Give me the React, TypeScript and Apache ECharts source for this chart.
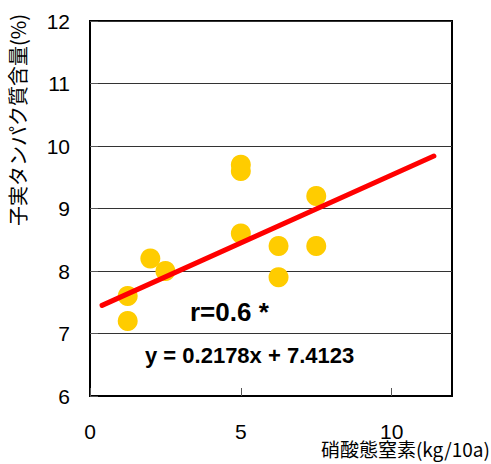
import React, { useEffect, useRef } from "react";
import * as echarts from "echarts";

const xValues = [5, 5, 7.5, 5, 6.25, 7.5, 6.25, 2, 2.5, 1.25, 1.25];
const yValues = [9.7, 9.6, 9.2, 8.6, 8.4, 8.4, 7.9, 8.2, 8.0, 7.6, 7.2];
const trendX = [0.4, 11.4];
const trendY = [7.45, 9.84];
const xTicks = [0, 5, 10];
const yTitle = "子実タンパク質含量(%)";
const xTitle = "硝酸態窒素(kg/10a)";
const rText = "r=0.6 *";
const eqText = "y = 0.2178x + 7.4123";

export default function App() {
  const ref = useRef<HTMLDivElement>(null);
  useEffect(() => {
    if (!ref.current) return;
    const chart = echarts.init(ref.current, undefined, { renderer: "svg" });
    const font = "'Liberation Sans', Arial, sans-serif";
    const cjk = "'Noto Sans CJK JP', sans-serif";
    chart.setOption({
      animation: false,
      backgroundColor: "#fff",
      grid: {
        left: 90,
        top: 21,
        right: 39,
        bottom: 68,
        show: true,
        borderColor: "#000",
        borderWidth: 2,
      },
      xAxis: {
        type: "value",
        min: 0,
        max: 12,
        interval: 5,
        axisLine: { show: true, onZero: false, lineStyle: { color: "#000", width: 2 } },
        axisTick: { show: true, inside: true, length: 8, lineStyle: { color: "#555" } },
        splitLine: { show: false },
        axisLabel: {
          showMaxLabel: false,
          margin: 25,
          fontSize: 21,
          color: "#000",
          fontFamily: font,
          formatter: (v: number) => (xTicks.includes(v) ? String(v) : ""),
        },
      },
      yAxis: {
        type: "value",
        min: 6,
        max: 12,
        interval: 1,
        axisLine: { show: true, lineStyle: { color: "#000", width: 2 } },
        axisTick: { show: true, inside: true, length: 8, lineStyle: { color: "#555" } },
        splitLine: { show: true, lineStyle: { color: "#333", width: 1 } },
        axisLabel: { margin: 20, fontSize: 21, color: "#000", fontFamily: font },
      },
      series: [
        {
          type: "scatter",
          data: xValues.map((x, i) => [x, yValues[i]]),
          symbol: "circle",
          symbolSize: 20,
          itemStyle: { color: "#FFCC00", opacity: 1 },
          z: 2,
        },
        {
          type: "line",
          data: trendX.map((x, i) => [x, trendY[i]]),
          showSymbol: false,
          symbol: "none",
          lineStyle: { color: "#FF0000", width: 5, cap: "round" },
          z: 3,
        },
      ],
      graphic: [
        {
          type: "text",
          x: 17,
          y: 120,
          rotation: Math.PI / 2,
          style: {
            text: yTitle,
            fontSize: 20,
            fontFamily: cjk,
            fill: "#000",
            align: "center",
            verticalAlign: "middle",
          },
        },
        {
          type: "text",
          x: 490,
          y: 448,
          style: {
            text: xTitle,
            fontSize: 19,
            fontFamily: cjk,
            fill: "#000",
            align: "right",
            verticalAlign: "middle",
          },
        },
        {
          type: "text",
          x: 190,
          y: 312,
          style: {
            text: rText,
            fontSize: 26,
            fontWeight: "bold",
            fontFamily: font,
            fill: "#000",
            align: "left",
            verticalAlign: "middle",
          },
        },
        {
          type: "text",
          x: 145,
          y: 355,
          style: {
            text: eqText,
            fontSize: 22,
            fontWeight: "bold",
            fontFamily: font,
            fill: "#000",
            align: "left",
            verticalAlign: "middle",
          },
        },
      ],
    });
    return () => chart.dispose();
  }, []);
  return <div ref={ref} style={{ width: 491, height: 464, position: "absolute", left: 0, top: 0 }} />;
}
